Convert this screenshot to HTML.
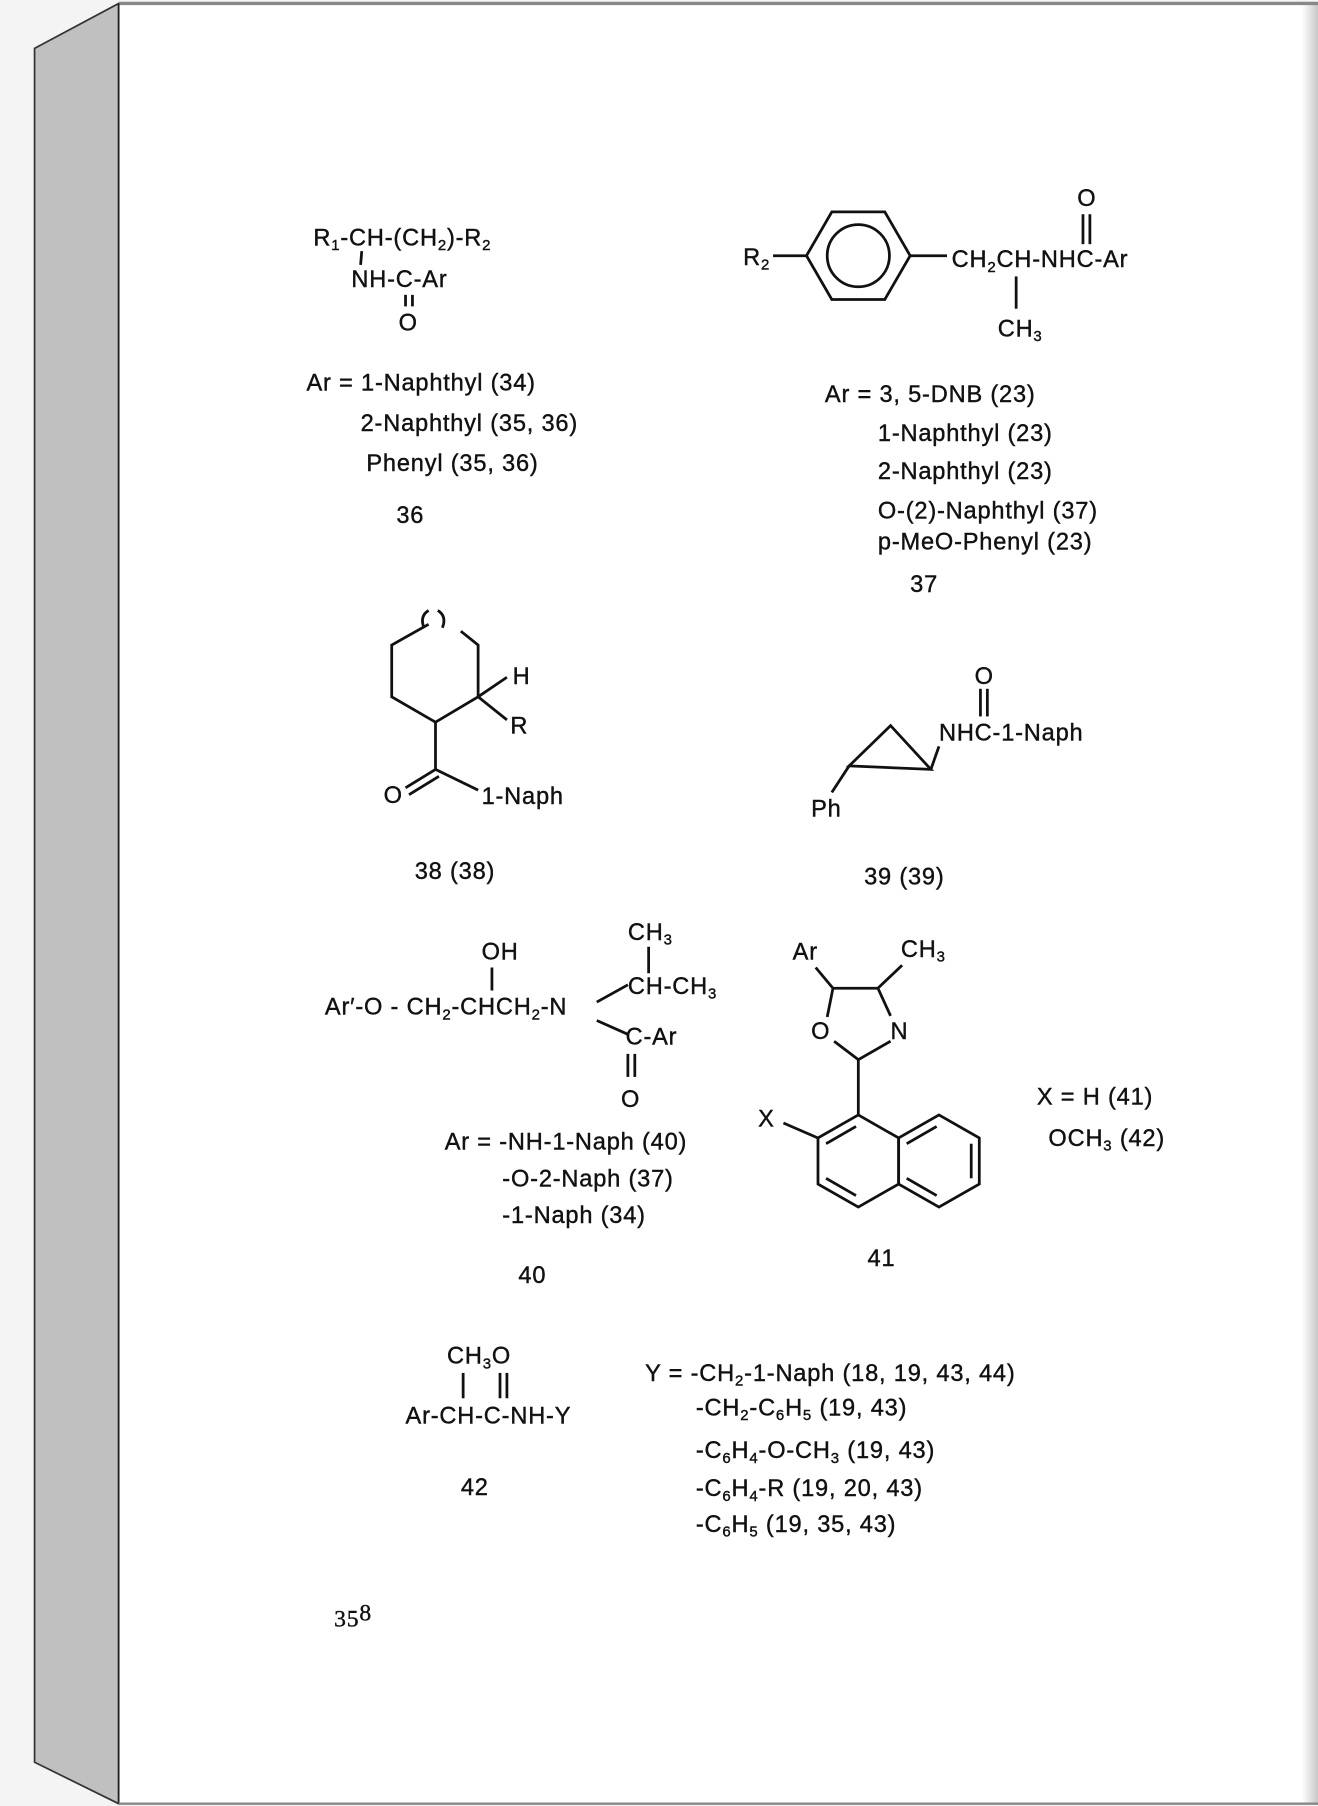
<!DOCTYPE html>
<html><head><meta charset="utf-8"><style>
html,body{margin:0;padding:0;background:#f4f4f4;}
svg{display:block;}
text{font-family:"Liberation Sans",sans-serif;font-size:20.5px;fill:#111;letter-spacing:0.7px;stroke:#111;stroke-width:0.35px;}
.s{font-size:13px;}
</style></head><body>
<svg width="1318" height="1806" viewBox="0 0 1144 1568" preserveAspectRatio="none">
<defs><linearGradient id="rg" x1="0" x2="1"><stop offset="0" stop-color="#fff"/><stop offset="1" stop-color="#c8c8c8"/></linearGradient></defs>
<rect width="1144" height="1568" fill="#f4f4f4"/>
<polygon points="30,42 103,3 103,1566 30,1530" fill="#c0c0c0" stroke="#333" stroke-width="1.5"/>
<rect x="103" y="3" width="1041" height="1563" fill="#fff"/>
<rect x="1130" y="3" width="14" height="1563" fill="url(#rg)"/>
<line x1="103" y1="3" x2="1144" y2="3" stroke="#888" stroke-width="3"/>
<line x1="103" y1="3" x2="103" y2="1566" stroke="#222" stroke-width="1.5"/>
<line x1="103" y1="1566" x2="1144" y2="1566" stroke="#888" stroke-width="2"/>

<g stroke="#111" stroke-width="2.4" fill="none">
<line x1="314" y1="218" x2="313" y2="230"/>
<line x1="352" y1="256" x2="352" y2="266"/><line x1="358" y1="256" x2="358" y2="266"/>
<polygon points="700,222 722,184 768,184 790,222 768,260 722,260"/>
<circle cx="745" cy="222" r="27"/>
<line x1="671" y1="222" x2="700" y2="222"/><line x1="790" y1="222" x2="822" y2="222"/>
<line x1="940" y1="186" x2="940" y2="212"/><line x1="946" y1="186" x2="946" y2="212"/>
<line x1="882" y1="240" x2="882" y2="268"/>
<polyline points="372,542 340,560 340,605 378,627 415,605 415,560 400,548"/>
<path d="M368,545 Q364,535 372,530 M380,530 Q388,535 384,545"/>
<line x1="415" y1="605" x2="440" y2="588"/><line x1="415" y1="605" x2="440" y2="625"/>
<line x1="378" y1="627" x2="378" y2="668"/><line x1="378" y1="668" x2="415" y2="686"/>
<line x1="378" y1="668" x2="352" y2="684"/><line x1="381" y1="674" x2="355" y2="690"/>
<polygon points="773,630 737,665 808,668"/>
<line x1="737" y1="665" x2="722" y2="688"/><line x1="808" y1="668" x2="815" y2="648"/>
<line x1="851" y1="598" x2="851" y2="622"/><line x1="857" y1="598" x2="857" y2="622"/>
<line x1="427" y1="840" x2="427" y2="860"/>
<line x1="563" y1="822" x2="563" y2="845"/>
<line x1="518" y1="870" x2="545" y2="855"/><line x1="518" y1="886" x2="545" y2="898"/>
<line x1="545" y1="915" x2="545" y2="935"/><line x1="551" y1="915" x2="551" y2="935"/>
<line x1="708" y1="840" x2="723" y2="858"/>
<line x1="723" y1="858" x2="762" y2="858"/><line x1="762" y1="858" x2="783" y2="838"/>
<line x1="762" y1="858" x2="773" y2="882"/><line x1="773" y1="904" x2="745" y2="920"/>
<line x1="745" y1="920" x2="724" y2="904"/><line x1="718" y1="883" x2="723" y2="858"/>
<line x1="745" y1="920" x2="745" y2="968"/>
<polygon points="745,968 780,988 780,1028 745,1048 710,1028 710,988"/>
<polygon points="780,988 815,968 850,988 850,1028 815,1048 780,1028"/>
<line x1="717" y1="993" x2="743" y2="978"/><line x1="717" y1="1023" x2="743" y2="1038"/>
<line x1="787" y1="993" x2="813" y2="978"/><line x1="843" y1="993" x2="843" y2="1023"/><line x1="787" y1="1023" x2="813" y2="1038"/>
<line x1="680" y1="975" x2="710" y2="988"/>
<line x1="402" y1="1192" x2="402" y2="1214"/>
<line x1="434" y1="1192" x2="434" y2="1214"/><line x1="440" y1="1192" x2="440" y2="1214"/>
</g>

<text x="272" y="213">R<tspan class="s" dy="4">1</tspan><tspan dy="-4">-CH-(CH</tspan><tspan class="s" dy="4">2</tspan><tspan dy="-4">)-R</tspan><tspan class="s" dy="4">2</tspan></text>
<text x="305" y="249">NH-C-Ar</text>
<text x="346" y="287">O</text>
<text x="266" y="339">Ar = 1-Naphthyl (34)</text>
<text x="313" y="374">2-Naphthyl (35, 36)</text>
<text x="318" y="409">Phenyl (35, 36)</text>
<text x="344" y="454">36</text>

<text x="645" y="230">R<tspan class="s" dy="4">2</tspan></text>
<text x="935" y="179">O</text>
<text x="826" y="232">CH<tspan class="s" dy="4">2</tspan><tspan dy="-4">CH-NHC-Ar</tspan></text>
<text x="866" y="292">CH<tspan class="s" dy="4">3</tspan></text>
<text x="716" y="349">Ar = 3, 5-DNB (23)</text>
<text x="762" y="383">1-Naphthyl (23)</text>
<text x="762" y="416">2-Naphthyl (23)</text>
<text x="762" y="450">O-(2)-Naphthyl (37)</text>
<text x="762" y="477">p-MeO-Phenyl (23)</text>
<text x="790" y="514">37</text>

<text x="445" y="594">H</text>
<text x="443" y="637">R</text>
<text x="333" y="697">O</text>
<text x="418" y="698">1-Naph</text>
<text x="360" y="763">38 (38)</text>

<text x="846" y="594">O</text>
<text x="815" y="643">NHC-1-Naph</text>
<text x="704" y="709">Ph</text>
<text x="750" y="768">39 (39)</text>

<text x="545" y="816">CH<tspan class="s" dy="4">3</tspan></text>
<text x="418" y="833">OH</text>
<text x="545" y="863">CH-CH<tspan class="s" dy="4">3</tspan></text>
<text x="282" y="881">Ar′-O - CH<tspan class="s" dy="4">2</tspan><tspan dy="-4">-CHCH</tspan><tspan class="s" dy="4">2</tspan><tspan dy="-4">-N</tspan></text>
<text x="543" y="907">C-Ar</text>
<text x="539" y="961">O</text>
<text x="386" y="998">Ar = -NH-1-Naph (40)</text>
<text x="436" y="1030">-O-2-Naph (37)</text>
<text x="436" y="1062">-1-Naph (34)</text>
<text x="450" y="1114">40</text>

<text x="688" y="833">Ar</text>
<text x="782" y="831">CH<tspan class="s" dy="4">3</tspan></text>
<text x="704" y="902">O</text>
<text x="773" y="902">N</text>
<text x="658" y="978">X</text>
<text x="900" y="959">X = H (41)</text>
<text x="910" y="995">OCH<tspan class="s" dy="4">3</tspan><tspan dy="-4"> (42)</tspan></text>
<text x="753" y="1099">41</text>

<text x="388" y="1184">CH<tspan class="s" dy="4">3</tspan><tspan dy="-4">O</tspan></text>
<text x="352" y="1236">Ar-CH-C-NH-Y</text>
<text x="400" y="1298">42</text>
<text x="560" y="1199">Y = -CH<tspan class="s" dy="4">2</tspan><tspan dy="-4">-1-Naph (18, 19, 43, 44)</tspan></text>
<text x="604" y="1229">-CH<tspan class="s" dy="4">2</tspan><tspan dy="-4">-C</tspan><tspan class="s" dy="4">6</tspan><tspan dy="-4">H</tspan><tspan class="s" dy="4">5</tspan><tspan dy="-4"> (19, 43)</tspan></text>
<text x="604" y="1266">-C<tspan class="s" dy="4">6</tspan><tspan dy="-4">H</tspan><tspan class="s" dy="4">4</tspan><tspan dy="-4">-O-CH</tspan><tspan class="s" dy="4">3</tspan><tspan dy="-4"> (19, 43)</tspan></text>
<text x="604" y="1299">-C<tspan class="s" dy="4">6</tspan><tspan dy="-4">H</tspan><tspan class="s" dy="4">4</tspan><tspan dy="-4">-R (19, 20, 43)</tspan></text>
<text x="604" y="1330">-C<tspan class="s" dy="4">6</tspan><tspan dy="-4">H</tspan><tspan class="s" dy="4">5</tspan><tspan dy="-4"> (19, 35, 43)</tspan></text>

<text x="290" y="1412" style="font-family:'Liberation Serif',serif">35<tspan dy="-5">8</tspan></text>
</svg>
</body></html>
